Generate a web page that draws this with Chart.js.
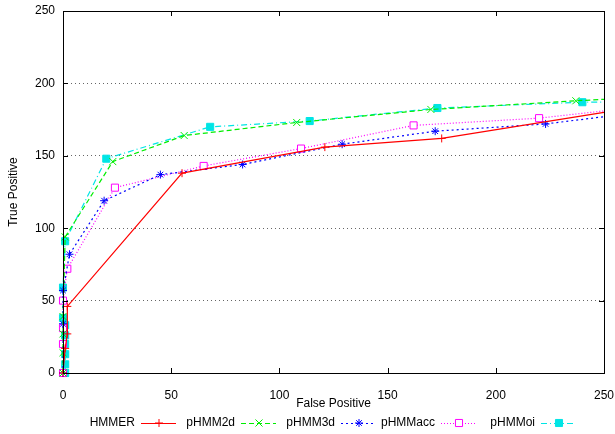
<!DOCTYPE html>
<html>
<head>
<meta charset="utf-8">
<script src="https://cdn.jsdelivr.net/npm/chart.js@4/dist/chart.umd.min.js"></script>
<style>
  html, body { margin: 0; padding: 0; background: #fff; }
  #wrap { width: 615px; height: 434px; }
</style>
</head>
<body>
<div id="wrap"><canvas id="roc"></canvas></div>
<script>
// values (false positives / true positives)
const seriesNames = ['HMMER', 'pHMM2d', 'pHMM3d', 'pHMMacc', 'pHMMoi'];

const hmmerFP = [0, 1, 2, 2, 55, 121, 175, 250];
const hmmerTP = [0, 17, 27, 46, 138, 156, 162, 180];

const hmm2dFP = [0, 0, 0, 0, 1, 23, 56, 108, 170, 237, 250];
const hmm2dTP = [0, 14, 27, 39, 94, 146, 164, 173, 182, 188, 189];

const hmm3dFP = [0, 0, 0, 3, 19, 45, 83, 129, 172, 223, 250];
const hmm3dTP = [0, 34, 57, 82, 119, 137, 144, 158, 167, 172, 177];

const hmmAccFP = [0, 0, 0, 0, 2, 24, 65, 110, 162, 220, 250];
const hmmAccTP = [0, 20, 31, 50, 72, 128, 143, 155, 171, 176, 181];

const hmmOiFP = [1, 1, 1, 1, 1, 1, 0, 0, 1, 20, 68, 114, 173, 240, 250];
const hmmOiTP = [0, 6, 13, 20, 26, 33, 38, 59, 91, 148, 170, 174, 183, 187, 187];

const xTicks = [0, 50, 100, 150, 200, 250];
const yTicks = [0, 50, 100, 150, 200, 250];

const FONT = '"Liberation Sans", Arial, sans-serif';

function pts(xs, ys) {
  return xs.map((x, i) => ({ x: x, y: ys[i] }));
}

// gnuplot-like look for each line
const styles = [
  { color: '#ff0000', dash: [],           point: 'cross',    radius: 4, fill: '#ff0000' },
  { color: '#00ee00', dash: [5, 3],       point: 'crossRot', radius: 5, fill: '#00ee00' },
  { color: '#0000ff', dash: [2, 3],       point: 'star',     radius: 4, fill: '#0000ff' },
  { color: '#ff00ff', dash: [1, 2],       point: 'rect',     radius: 5, fill: '#ffffff' },
  { color: '#00e5e5', dash: [6, 3, 1, 3], point: 'rect',     radius: 5, fill: '#00e5e5' }
];

const allData = [
  pts(hmmerFP, hmmerTP),
  pts(hmm2dFP, hmm2dTP),
  pts(hmm3dFP, hmm3dTP),
  pts(hmmAccFP, hmmAccTP),
  pts(hmmOiFP, hmmOiTP)
];

// the lines run out through the right border, so no marker sits on it
const edgeless = r => c => (c.raw && c.raw.x >= 250) ? 0 : r;

const datasets = seriesNames.map((name, i) => ({
  label: name,
  data: allData[i],
  borderColor: styles[i].color,
  borderWidth: 1.2,
  borderDash: styles[i].dash,
  pointStyle: styles[i].point,
  pointRadius: edgeless(styles[i].radius),
  legendRadius: styles[i].radius,
  pointBorderColor: styles[i].color,
  pointBackgroundColor: styles[i].fill,
  pointBorderWidth: 1,
  tension: 0,
  clip: false
}));

// box round the plot with inward tick marks on all four sides
const frame = {
  id: 'frame',
  afterDatasetsDraw(chart) {
    const { ctx, chartArea: a, scales } = chart;
    ctx.save();
    ctx.strokeStyle = '#000';
    ctx.lineWidth = 1;
    ctx.beginPath();
    xTicks.forEach(v => {
      const px = Math.round(scales.x.getPixelForValue(v)) + 0.5;
      ctx.moveTo(px, a.bottom); ctx.lineTo(px, a.bottom - 5);
      ctx.moveTo(px, a.top); ctx.lineTo(px, a.top + 5);
    });
    yTicks.forEach(v => {
      const py = Math.round(scales.y.getPixelForValue(v)) + 0.5;
      ctx.moveTo(a.left, py); ctx.lineTo(a.left + 5, py);
      ctx.moveTo(a.right, py); ctx.lineTo(a.right - 5, py);
    });
    ctx.stroke();
    ctx.strokeRect(Math.round(a.left) + 0.5, Math.round(a.top) + 0.5,
      Math.round(a.right - a.left), Math.round(a.bottom - a.top));
    ctx.restore();
  }
};

// gnuplot style key: label first, then a short line sample with its marker
const key = {
  id: 'key',
  afterDraw(chart) {
    const ctx = chart.ctx;
    const y = 423;
    ctx.save();
    ctx.font = '12px ' + FONT;
    ctx.fillStyle = '#000';
    ctx.textAlign = 'right';
    ctx.textBaseline = 'middle';
    chart.data.datasets.forEach((ds, i) => {
      const right = 135 + 100 * i;
      ctx.fillText(ds.label, right, y);
      ctx.save();
      ctx.strokeStyle = ds.borderColor;
      ctx.lineWidth = ds.borderWidth;
      ctx.setLineDash(ds.borderDash);
      ctx.beginPath();
      ctx.moveTo(right + 6, y + 0.5);
      ctx.lineTo(right + 41, y + 0.5);
      ctx.stroke();
      ctx.restore();
      ctx.save();
      ctx.strokeStyle = ds.pointBorderColor;
      ctx.fillStyle = ds.pointBackgroundColor;
      Chart.helpers.drawPoint(ctx, {
        pointStyle: ds.pointStyle,
        radius: ds.legendRadius,
        rotation: 0,
        borderWidth: 1
      }, right + 24, y);
      ctx.restore();
    });
    ctx.restore();
  }
};

new Chart(document.getElementById('roc'), {
  type: 'scatter',
  data: { datasets: datasets },
  options: {
    responsive: true,
    maintainAspectRatio: false,
    animation: false,
    showLine: true,
    layout: { padding: { left: 0, right: 11, top: 11, bottom: 0 } },
    plugins: {
      legend: { display: false },
      tooltip: { enabled: false }
    },
    scales: {
      x: {
        type: 'linear',
        min: 0,
        max: 250,
        afterBuildTicks: s => { s.ticks = xTicks.map(v => ({ value: v })); },
        afterFit: s => { s.height = 61; s.paddingLeft = 0; s.paddingRight = 0; },
        grid: { display: false },
        border: { display: false },
        ticks: {
          padding: 7,
          color: '#000',
          maxRotation: 0,
          font: { family: FONT, size: 12 }
        },
        title: {
          display: true,
          text: 'False Positive',
          color: '#000',
          font: { family: FONT, size: 12 },
          padding: { top: 0, bottom: 23 }
        }
      },
      y: {
        type: 'linear',
        min: 0,
        max: 250,
        afterBuildTicks: s => { s.ticks = yTicks.map(v => ({ value: v })); },
        afterFit: s => { s.width = 63; s.paddingTop = 0; s.paddingBottom = 0; },
        grid: {
          drawTicks: false,
          lineWidth: 1,
          color: c => (c.tick && (c.tick.value === 0 || c.tick.value === 250)) ? 'rgba(0,0,0,0)' : '#666',
          tickBorderDash: [1, 2]
        },
        border: { display: false, dash: [1, 3] },
        ticks: {
          padding: 8,
          color: '#000',
          font: { family: FONT, size: 12 }
        },
        title: {
          display: true,
          text: 'True Positive',
          color: '#000',
          font: { family: FONT, size: 12 },
          padding: { top: 6, bottom: 0 }
        }
      }
    }
  },
  plugins: [frame, key]
});
</script>
</body>
</html>
